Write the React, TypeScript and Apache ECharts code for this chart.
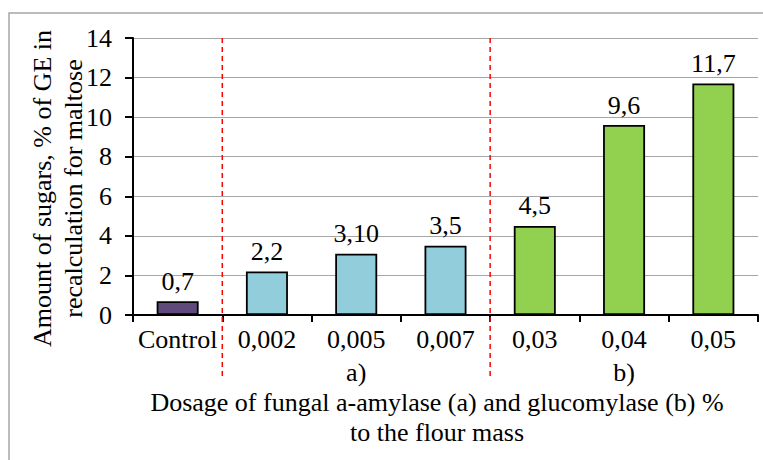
import React, { useEffect, useRef } from "react";
import * as echarts from "echarts";

const categories = ["Control", "0,002", "0,005", "0,007", "0,03", "0,04", "0,05"];
const values = [0.7, 2.2, 3.1, 3.5, 4.5, 9.6, 11.7];
const valueLabels = ["0,7", "2,2", "3,10", "3,5", "4,5", "9,6", "11,7"];
const barGroups = ["control", "a", "a", "a", "b", "b", "b"];
const groupColors: Record<string, string> = { control: "#604a7b", a: "#92cddc", b: "#92d050" };
const groupLabels = ["a)", "b)"];
const groupLabelCategories = ["0,005", "0,04"];
const dividerPositions = [1, 4];
const yMin = 0;
const yMax = 14;
const yInterval = 2;
const yTitle = "Amount of sugars, % of GE in\nrecalculation for maltose";
const xTitle = "Dosage of fungal a-amylase (a) and glucomylase (b) %\nto the flour mass";

const FONT = "Liberation Serif";
const FS = 26;

export default function App() {
  const ref = useRef<HTMLDivElement>(null);
  useEffect(() => {
    if (!ref.current) return;
    const chart = echarts.init(ref.current, null, { renderer: "svg" });
    chart.setOption({
      animation: false,
      backgroundColor: "#ffffff",
      textStyle: { fontFamily: FONT },
      grid: { left: 133, top: 38, right: 5, bottom: 145, containLabel: false },
      xAxis: [
        {
          type: "category",
          data: categories,
          boundaryGap: true,
          axisLine: { show: true, lineStyle: { color: "#000", width: 2 } },
          axisTick: { show: true, length: 7, alignWithLabel: false, lineStyle: { color: "#000", width: 2 } },
          axisLabel: { interval: 0, fontSize: FS, color: "#000", margin: 11, fontFamily: FONT },
          splitLine: { show: false },
        },
        { type: "value", min: 0, max: categories.length, show: false },
      ],
      yAxis: {
        type: "value",
        min: yMin,
        max: yMax,
        interval: yInterval,
        axisLine: { show: true, lineStyle: { color: "#000", width: 2 } },
        axisTick: { show: true, length: 8, lineStyle: { color: "#000", width: 2 } },
        axisLabel: { fontSize: FS, color: "#000", margin: 21, fontFamily: FONT },
        splitLine: { show: true, lineStyle: { color: "#a6a6a6", width: 1 } },
      },
      series: [
        {
          type: "bar",
          xAxisIndex: 0,
          barWidth: 42,
          data: values.map((v, i) => ({
            value: v,
            itemStyle: { color: groupColors[barGroups[i]], borderColor: "#000", borderWidth: 1.8 },
          })),
          label: {
            show: true,
            position: "top",
            distance: 7,
            fontSize: FS,
            color: "#000",
            fontFamily: FONT,
            formatter: (p: any) => valueLabels[p.dataIndex],
          },
        },
      ],
    });

    const top = chart.convertToPixel({ yAxisIndex: 0 }, yMax) as number;
    const zero = chart.convertToPixel({ yAxisIndex: 0 }, yMin) as number;
    const graphics: any[] = [
      {
        type: "rect",
        shape: { x: 9, y: 13, width: 800, height: 500 },
        style: { fill: "none", stroke: "#a6a6a6", lineWidth: 1.5 },
        silent: true,
      },
    ];
    dividerPositions.forEach((d) => {
      const x = chart.convertToPixel({ xAxisIndex: 1 }, d) as number;
      graphics.push({
        type: "line",
        shape: { x1: x, y1: top, x2: x, y2: zero + 63 },
        style: { stroke: "#ff0000", lineWidth: 1.5, lineDash: [5, 4] },
        z: 10,
      });
    });
    groupLabels.forEach((t, i) => {
      const x = chart.convertToPixel({ xAxisIndex: 0 }, groupLabelCategories[i]) as number;
      graphics.push({
        type: "text",
        x,
        y: zero + 57,
        style: { text: t, fontSize: FS, fontFamily: FONT, fill: "#000", textAlign: "center", textVerticalAlign: "middle" },
      });
    });
    graphics.push({
      type: "text",
      x: 437,
      y: 417,
      style: {
        text: xTitle,
        fontSize: FS,
        lineHeight: 30,
        fontFamily: FONT,
        fill: "#000",
        textAlign: "center",
        textVerticalAlign: "middle",
      },
    });
    graphics.push({
      type: "text",
      x: 58,
      y: 188.5,
      rotation: Math.PI / 2,
      style: {
        text: yTitle,
        fontSize: FS,
        lineHeight: 31,
        fontFamily: FONT,
        fill: "#000",
        textAlign: "center",
        textVerticalAlign: "middle",
      },
    });
    chart.setOption({ graphic: graphics });
    return () => chart.dispose();
  }, []);
  return <div ref={ref} style={{ position: "fixed", left: 0, top: 0, width: 763, height: 460 }} />;
}
